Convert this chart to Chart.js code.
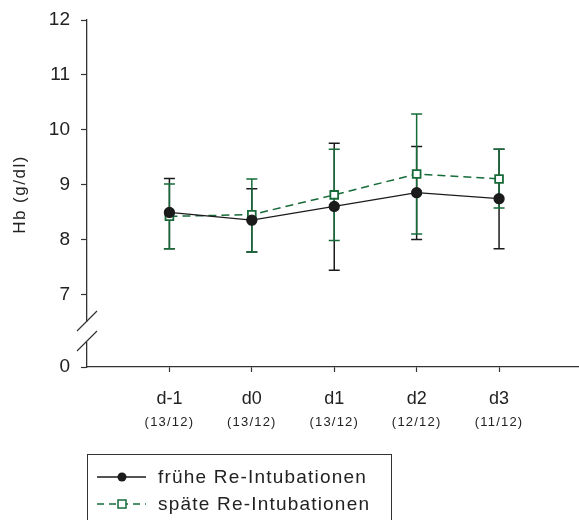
<!DOCTYPE html>
<html lang="de">
<head>
  <meta charset="UTF-8">
  <title>Hb Verlauf</title>
  <script src="https://cdn.jsdelivr.net/npm/chart.js"></script>
  <style>
    html, body { margin: 0; padding: 0; background: white; }
    #wrap { width: 579px; height: 520px; position: relative; }
  </style>
</head>
<body>
  <div id="wrap"><canvas id="hbChart"></canvas></div>

  <script>
    // Daten
    const categories = ['d-1', 'd0', 'd1', 'd2', 'd3'];
    const counts = ['(13/12)', '(13/12)', '(13/12)', '(12/12)', '(11/12)'];
    const yTicks = [7, 8, 9, 10, 11, 12];

    const fruehMean = [8.50, 8.36, 8.61, 8.86, 8.75];
    const fruehLow  = [7.84, 7.78, 7.45, 8.01, 7.84];
    const fruehHigh = [9.12, 8.93, 9.76, 9.70, 9.65];

    const spaetMean = [8.43, 8.46, 8.82, 9.20, 9.11];
    const spaetLow  = [7.84, 7.78, 7.99, 8.11, 8.58];
    const spaetHigh = [9.02, 9.11, 9.65, 10.29, 9.65];

    const legendLabels = ['frühe Re-Intubationen', 'späte Re-Intubationen'];
    const yTitle = 'Hb (g/dl)';

    const BLACK = '#1b1b1b';
    const GREEN = '#166b38';
    const FONT = '"Liberation Sans", Arial, sans-serif';
    const Y_MIN = 5.69; // wird als "0" beschriftet (Achsenbruch)

    const pts = (arr) => arr.map((v, i) => ({ x: i, y: v }));

    // Fehlerbalken
    const errorBars = {
      id: 'errorBars',
      beforeDatasetsDraw(chart) {
        const { ctx, scales: { x, y } } = chart;
        const sets = [
          { low: fruehLow, high: fruehHigh, color: BLACK },
          { low: spaetLow, high: spaetHigh, color: GREEN }
        ];
        ctx.save();
        sets.forEach(s => {
          ctx.strokeStyle = s.color;
          ctx.lineWidth = 1.5;
          s.low.forEach((lo, i) => {
            const px = x.getPixelForValue(i);
            const pl = y.getPixelForValue(lo);
            const ph = y.getPixelForValue(s.high[i]);
            ctx.beginPath();
            ctx.moveTo(px, pl); ctx.lineTo(px, ph);
            ctx.moveTo(px - 5.5, pl); ctx.lineTo(px + 5.5, pl);
            ctx.moveTo(px - 5.5, ph); ctx.lineTo(px + 5.5, ph);
            ctx.stroke();
          });
        });
        ctx.restore();
      }
    };

    // Achsenbruch, Achsentitel, Fallzahlen, Legende
    const extras = {
      id: 'extras',
      afterDraw(chart) {
        const { ctx, chartArea, scales: { x, y } } = chart;
        const ax = chartArea.left;
        const p7 = y.getPixelForValue(7);
        const p0 = y.getPixelForValue(Y_MIN);
        const mid = (p7 + p0) / 2 + 1;
        ctx.save();
        ctx.fillStyle = 'white';
        ctx.fillRect(ax - 3, mid - 10, 6, 20);
        ctx.strokeStyle = '#333';
        ctx.lineWidth = 1.2;
        ctx.beginPath();
        ctx.moveTo(ax - 10, mid - 1); ctx.lineTo(ax + 10, mid - 21);
        ctx.moveTo(ax - 10, mid + 19); ctx.lineTo(ax + 10, mid - 1);
        ctx.stroke();

        // Achsentitel
        ctx.save();
        ctx.translate(20, (chartArea.top + chartArea.bottom) / 2 + 1);
        ctx.rotate(-Math.PI / 2);
        ctx.font = '17px ' + FONT;
        ctx.letterSpacing = '1.5px';
        ctx.fillStyle = '#222';
        ctx.textAlign = 'center';
        ctx.textBaseline = 'middle';
        ctx.fillText(yTitle, 0, 0);
        ctx.restore();

        // Fallzahlen unter den Kategorien
        ctx.fillStyle = '#222';
        ctx.font = '13px ' + FONT;
        ctx.letterSpacing = '1.2px';
        ctx.textAlign = 'center';
        ctx.textBaseline = 'middle';
        counts.forEach((c, i) => {
          ctx.fillText(c, x.getPixelForValue(i), 422);
        });

        // Legende
        ctx.letterSpacing = '1.2px';
        ctx.strokeStyle = '#333';
        ctx.lineWidth = 1;
        ctx.strokeRect(87.5, 454.5, 304, 80);
        ctx.textAlign = 'left';
        ctx.font = '19px ' + FONT;
        ctx.fillStyle = '#222';

        let ly = 477;
        ctx.strokeStyle = BLACK;
        ctx.lineWidth = 1.3;
        ctx.beginPath(); ctx.moveTo(97, ly); ctx.lineTo(146, ly); ctx.stroke();
        ctx.fillStyle = BLACK;
        ctx.beginPath(); ctx.arc(122, ly, 4.5, 0, Math.PI * 2); ctx.fill();
        ctx.fillStyle = '#222';
        ctx.fillText(legendLabels[0], 158, ly + 1);

        ly = 504;
        ctx.strokeStyle = GREEN;
        ctx.setLineDash([7, 5]);
        ctx.beginPath(); ctx.moveTo(97, ly); ctx.lineTo(146, ly); ctx.stroke();
        ctx.setLineDash([]);
        ctx.fillStyle = 'white';
        ctx.fillRect(118, ly - 4, 8, 8);
        ctx.lineWidth = 1.5;
        ctx.strokeRect(118, ly - 4, 8, 8);
        ctx.fillStyle = '#222';
        ctx.fillText(legendLabels[1], 158, ly + 1);
        ctx.restore();
      }
    };

    new Chart(document.getElementById('hbChart'), {
      type: 'line',
      data: {
        datasets: [{
          label: legendLabels[0],
          data: pts(fruehMean),
          borderColor: BLACK,
          borderWidth: 1.3,
          pointStyle: 'circle',
          pointRadius: 5,
          pointBackgroundColor: BLACK,
          pointBorderColor: BLACK,
          tension: 0
        }, {
          label: legendLabels[1],
          data: pts(spaetMean),
          borderColor: GREEN,
          borderWidth: 1.5,
          borderDash: [8, 5],
          pointStyle: 'rect',
          pointRadius: 5.5,
          pointBorderWidth: 1.8,
          pointBackgroundColor: 'white',
          pointBorderColor: GREEN,
          tension: 0
        }]
      },
      options: {
        responsive: true,
        maintainAspectRatio: false,
        animation: false,
        layout: { autoPadding: false, padding: { top: 20, left: 0, right: 0, bottom: 0 } },
        plugins: {
          legend: { display: false },
          tooltip: { enabled: false }
        },
        scales: {
          x: {
            type: 'linear',
            min: -1,
            max: 4.97,
            afterBuildTicks: (s) => { s.ticks = categories.map((c, i) => ({ value: i })); },
            afterFit: (s) => { s.height = 153; s.paddingLeft = 0; s.paddingRight = 0; },
            grid: { drawOnChartArea: false, tickLength: 5, tickColor: '#333', tickWidth: 1.2 },
            border: { color: '#333', width: 1.3 },
            ticks: {
              color: '#222',
              font: { family: FONT, size: 18 },
              padding: 16,
              maxRotation: 0,
              autoSkip: false,
              callback: (v) => categories[v]
            }
          },
          y: {
            min: Y_MIN,
            max: 12,
            afterBuildTicks: (s) => {
              s.ticks = [{ value: Y_MIN }].concat(yTicks.map(v => ({ value: v })));
            },
            afterFit: (s) => { s.width = 87; s.paddingTop = 0; s.paddingBottom = 0; },
            grid: { drawOnChartArea: false, tickLength: 6, tickColor: '#333', tickWidth: 1.2 },
            border: { color: '#333', width: 1.3 },
            ticks: {
              color: '#222',
              font: { family: FONT, size: 19 },
              padding: 11,
              autoSkip: false,
              callback: (v) => (v === Y_MIN ? '0' : String(v))
            }
          }
        }
      },
      plugins: [errorBars, extras]
    });
  </script>
</body>
</html>
